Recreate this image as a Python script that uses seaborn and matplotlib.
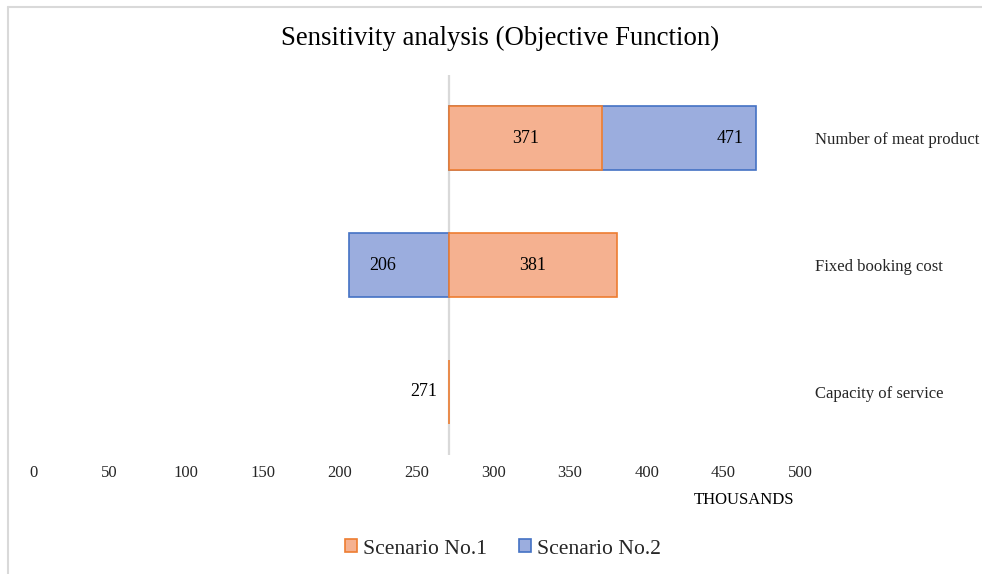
import matplotlib
matplotlib.use("Agg")
import matplotlib.pyplot as plt
import seaborn as sns
import pandas as pd
from matplotlib.patches import Patch
from matplotlib.lines import Line2D

# ---------------- data ----------------
categories = ["Number of meat product", "Fixed booking cost", "Capacity of service"]
base_value = 271
scenario1 = [371, 381, 271]
scenario2 = [471, 206, None]
series_names = ["Scenario No.1", "Scenario No.2"]
x_ticks = [0, 50, 100, 150, 200, 250, 300, 350, 400, 450, 500]

# ---------------- style ----------------
sns.set_theme(style="white")
plt.rcParams["font.family"] = ["Liberation Serif", "DejaVu Serif"]

orange_face = "#F5B190"
orange_edge = "#ED7D31"
blue_face = "#9BADDE"
blue_edge = "#4472C4"

W, H = 982, 574
fig = plt.figure(figsize=(W / 100, H / 100), dpi=100)
ax = fig.add_axes([33 / W, 1 - 455 / H, (800 - 33) / W, 380 / H])

df = pd.DataFrame({"category": categories, "s1": scenario1, "s2": scenario2})
ypos = list(range(len(categories)))
bar_h = 0.506

# Scenario 2 bars (behind)
for y, v in zip(ypos, df["s2"]):
    if v is None or pd.isna(v):
        continue
    ax.barh(y, v - base_value, left=base_value, height=bar_h,
            color=blue_face, edgecolor=blue_edge, linewidth=1.2, zorder=2)
# Scenario 1 bars (front)
for y, v in zip(ypos, df["s1"]):
    ax.barh(y, v - base_value, left=base_value, height=bar_h,
            color=orange_face, edgecolor=orange_edge, linewidth=1.2, zorder=3)

# axis crossing line
ax.axvline(base_value, color="#D9D9D9", linewidth=1.6, zorder=1)

# data labels
lab_fs = 13
for y, v in zip(ypos, df["s1"]):
    if v == base_value:
        ax.annotate(f"{v}", (v, y), xytext=(-11, 0), textcoords="offset pixels",
                    ha="right", va="center", fontsize=lab_fs, color="black", zorder=5)
    else:
        ax.text((base_value + v) / 2, y, f"{v}", ha="center", va="center",
                fontsize=lab_fs, color="black", zorder=5)
for y, v in zip(ypos, df["s2"]):
    if v is None or pd.isna(v):
        continue
    if v > base_value:
        ax.annotate(f"{int(v)}", (v, y), xytext=(-12, 0), textcoords="offset pixels",
                    ha="right", va="center", fontsize=lab_fs, color="black", zorder=5)
    else:
        ax.annotate(f"{int(v)}", (v, y), xytext=(20, 0), textcoords="offset pixels",
                    ha="left", va="center", fontsize=lab_fs, color="black", zorder=5)

ax.set_xlim(0, 500)
ax.set_ylim(len(categories) - 0.5, -0.5)
ax.set_xticks(x_ticks)
ax.set_xticklabels([str(t) for t in x_ticks], fontsize=12)
ax.set_yticks(ypos)
ax.set_yticklabels(categories, fontsize=12)
ax.yaxis.tick_right()
ax.tick_params(axis="y", length=0, pad=11)
ax.tick_params(axis="x", length=0, pad=7)
for s in ax.spines.values():
    s.set_visible(False)
ax.grid(False)
ax.set_facecolor("none")

# title, axis unit
fig.text(500 / W, 1 - 38 / H, "Sensitivity analysis (Objective Function)",
         ha="center", va="center", fontsize=19.3, color="black")
fig.text(744 / W, 1 - 500 / H, "THOUSANDS", ha="center", va="center",
         fontsize=12, color="black")

# legend
handles = [Patch(facecolor=orange_face, edgecolor=orange_edge, linewidth=1.2),
           Patch(facecolor=blue_face, edgecolor=blue_edge, linewidth=1.2)]
fig.legend(handles, series_names, loc="center", bbox_to_anchor=(503 / W, 1 - 549 / H),
           ncol=2, frameon=False, fontsize=15.6, handlelength=0.55, handleheight=0.55,
           handletextpad=0.25, columnspacing=1.5)

# chart border (top and left visible)
fig.add_artist(Line2D([8 / W, 1], [1 - 7 / H, 1 - 7 / H], transform=fig.transFigure,
                      color="#D9D9D9", linewidth=1.5))
fig.add_artist(Line2D([8 / W, 8 / W], [0, 1 - 7 / H], transform=fig.transFigure,
                      color="#D9D9D9", linewidth=1.5))

fig.savefig("out.png", dpi=100, facecolor="white")
